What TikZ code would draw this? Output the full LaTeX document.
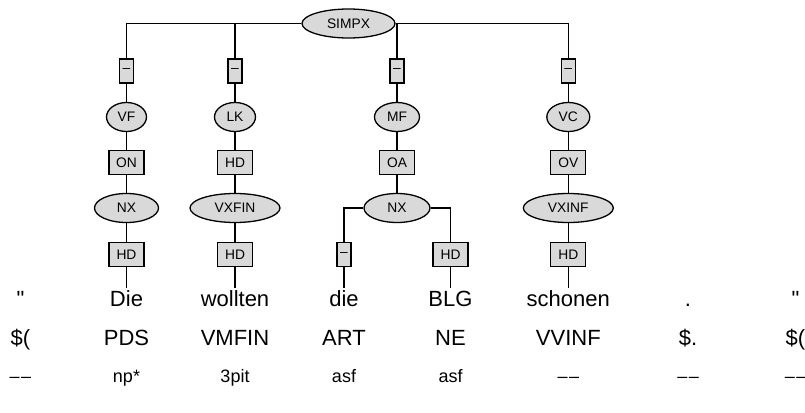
\documentclass[tikz,border=0pt]{standalone}
\usepackage{fontspec}
\newfontfamily\arial{Liberation Sans}
\usetikzlibrary{shapes.geometric}
\definecolor{nodegray}{RGB}{217,217,217}
\newcommand{\nomorph}{–\kern1.5pt–}
\begin{document}
\begin{tikzpicture}[x=1pt,y=-1pt,
  cat/.style={ellipse, draw, line width=1.3pt, fill=nodegray, inner sep=0pt,
    minimum height=29pt, font=\arial\fontsize{13.8}{14}\selectfont},
  lab/.style={rectangle, draw, line width=1.3pt, fill=nodegray, inner sep=0pt,
    minimum height=24pt, minimum width=35pt, font=\arial\fontsize{13.8}{14}\selectfont},
  dashlab/.style={lab, minimum width=14pt},
  word/.style={anchor=base, inner sep=0pt, font=\arial\fontsize{22}{24}\selectfont},
  tok/.style={word, text height=18.5pt},
  morph/.style={anchor=base, inner sep=0pt, font=\arial\fontsize{18}{20}\selectfont},
  edge/.style={line width=1.6pt}
]
\fill[white] (0,0) rectangle (805,412);
\useasboundingbox (0,0) rectangle (805,412);

% root
\node[cat, minimum width=93pt] (simpx) at (348.5,23.5) {SIMPX};

% column 1
\node[dashlab] (e1a) at (126.5,71) {–};
\node[cat, minimum width=40pt] (vf) at (126.5,117) {VF};
\node[lab] (e1b) at (126.5,162.5) {ON};
\node[cat, minimum width=64pt] (nx1) at (126.5,208) {NX};
\node[lab] (e1c) at (126.5,254.5) {HD};

% column 2
\node[dashlab] (e2a) at (235,71) {–};
\node[cat, minimum width=41pt] (lk) at (235,117) {LK};
\node[lab] (e2b) at (235,162.5) {HD};
\node[cat, minimum width=90pt] (vxfin) at (235,208) {VXFIN};
\node[lab] (e2c) at (235,254.5) {HD};

% column 3
\node[dashlab] (e3a) at (397,71) {–};
\node[cat, minimum width=45pt] (mf) at (397,117) {MF};
\node[lab] (e3b) at (397,162.5) {OA};
\node[cat, minimum width=66pt] (nx3) at (397,208) {NX};
\node[dashlab] (e3c) at (344,254.5) {–};
\node[lab] (e3d) at (450.5,254.5) {HD};

% column 4
\node[dashlab] (e4a) at (568.3,71) {–};
\node[cat, minimum width=43pt] (vc) at (568.3,117) {VC};
\node[lab] (e4b) at (568.3,162.5) {OV};
\node[cat, minimum width=90pt] (vxinf) at (568.3,208) {VXINF};
\node[lab] (e4c) at (568.3,254.5) {HD};

% words
\node[word] (w0) at (20.5,306.5) {"};
\node[tok] (w1) at (126.5,306.5) {Die};
\node[tok] (w2) at (235,306.5) {wollten};
\node[tok] (w3) at (344,306.5) {die};
\node[tok] (w4) at (450.5,306.5) {BLG};
\node[tok] (w5) at (568.3,306.5) {schonen};
\node[word] (w6) at (688,306.5) {.};
\node[word] (w7) at (795.5,306.5) {"};

% POS tags
\node[word] (p0) at (20.5,345.5) {\$(};
\node[word] (p1) at (126.5,345.5) {PDS};
\node[word] (p2) at (235,345.5) {VMFIN};
\node[word] (p3) at (344,345.5) {ART};
\node[word] (p4) at (450.5,345.5) {NE};
\node[word] (p5) at (568.3,345.5) {VVINF};
\node[word] (p6) at (688,345.5) {\$.};
\node[word] (p7) at (795.5,345.5) {\$(};

% morphology
\node[morph] (m0) at (20.5,382) {\nomorph};
\node[morph] (m1) at (126.5,382) {np*};
\node[morph] (m2) at (235,382) {3pit};
\node[morph] (m3) at (344,382) {asf};
\node[morph] (m4) at (450.5,382) {asf};
\node[morph] (m5) at (568.3,382) {\nomorph};
\node[morph] (m6) at (688,382) {\nomorph};
\node[morph] (m7) at (795.5,382) {\nomorph};

% connectors
\draw[edge] (simpx.west) -| (e1a.north);
\draw[edge] (e2a.north) -- (e2a.north |- simpx.west);
\draw[edge] (simpx.east) -| (e4a.north);
\draw[edge] (e3a.north) -- (e3a.north |- simpx.east);

\draw[edge] (e1a.south) -- (vf.north);
\draw[edge] (vf.south) -- (e1b.north);
\draw[edge] (e1b.south) -- (nx1.north);
\draw[edge] (nx1.south) -- (e1c.north);
\draw[edge] (e1c.south) -- (w1.north);

\draw[edge] (e2a.south) -- (lk.north);
\draw[edge] (lk.south) -- (e2b.north);
\draw[edge] (e2b.south) -- (vxfin.north);
\draw[edge] (vxfin.south) -- (e2c.north);
\draw[edge] (e2c.south) -- (w2.north);

\draw[edge] (e3a.south) -- (mf.north);
\draw[edge] (mf.south) -- (e3b.north);
\draw[edge] (e3b.south) -- (nx3.north);
\draw[edge] (nx3.west) -| (e3c.north);
\draw[edge] (nx3.east) -| (e3d.north);
\draw[edge] (e3c.south) -- (w3.north);
\draw[edge] (e3d.south) -- (w4.north);

\draw[edge] (e4a.south) -- (vc.north);
\draw[edge] (vc.south) -- (e4b.north);
\draw[edge] (e4b.south) -- (vxinf.north);
\draw[edge] (vxinf.south) -- (e4c.north);
\draw[edge] (e4c.south) -- (w5.north);
\end{tikzpicture}
\end{document}
